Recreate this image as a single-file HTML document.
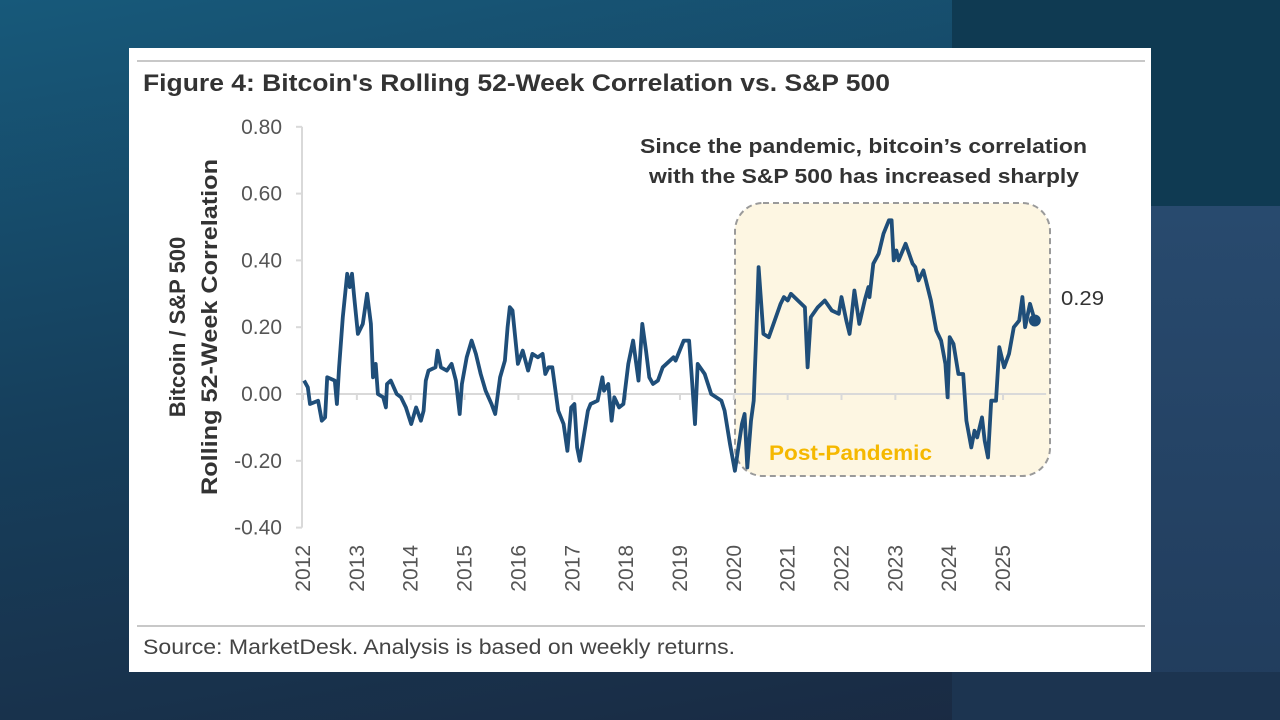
<!DOCTYPE html>
<html><head><meta charset="utf-8"><style>
body{margin:0;width:1280px;height:720px;overflow:hidden;font-family:"Liberation Sans",sans-serif;background:linear-gradient(170deg,#17597a 0%,#163f5c 45%,#1a2840 100%);position:relative}
.blk{position:absolute}
#card{position:absolute;left:129px;top:48px;width:1022px;height:624px;background:#fff}
</style></head><body>
<div class="blk" style="left:952px;top:0;width:328px;height:206px;background:#0f3a52"></div>
<div class="blk" style="left:1151px;top:206px;width:129px;height:514px;background:linear-gradient(180deg,#284a6e,#213c5c)"></div>
<div class="blk" style="left:952px;top:672px;width:328px;height:48px;background:#1c3450"></div>
<div id="card"></div>
<svg id="chart" width="1280" height="720" style="position:absolute;left:0;top:0" font-family="Liberation Sans, sans-serif">
<line x1="137" y1="61" x2="1145" y2="61" stroke="#c8c8c8" stroke-width="2"/>
<text x="143" y="91" font-size="24" font-weight="bold" fill="#333" textLength="747" lengthAdjust="spacingAndGlyphs">Figure 4: Bitcoin's Rolling 52-Week Correlation vs. S&amp;P 500</text>
<rect x="735" y="203" width="315" height="273" rx="28" fill="#fdf6e2" stroke="#9a9a9a" stroke-width="2" stroke-dasharray="6,4"/>
<text x="769" y="460" font-size="21" font-weight="bold" fill="#f5b800" textLength="163" lengthAdjust="spacingAndGlyphs">Post-Pandemic</text>
<text x="640" y="153" font-size="20" font-weight="bold" fill="#333" textLength="447" lengthAdjust="spacingAndGlyphs">Since the pandemic, bitcoin’s correlation</text>
<text x="649" y="183" font-size="20" font-weight="bold" fill="#333" textLength="430" lengthAdjust="spacingAndGlyphs">with the S&amp;P 500 has increased sharply</text>
<g id="axes"></g>
<g id="series"></g>
<text x="1061" y="305" font-size="20" fill="#333" textLength="43" lengthAdjust="spacingAndGlyphs">0.29</text>
<g transform="translate(185,327) rotate(-90)"><text x="0" y="0" font-size="22" font-weight="bold" fill="#333" text-anchor="middle">Bitcoin / S&amp;P 500</text></g>
<g transform="translate(217,327) rotate(-90)"><text x="-168" y="0" font-size="22" font-weight="bold" fill="#333" textLength="336" lengthAdjust="spacingAndGlyphs">Rolling 52-Week Correlation</text></g>
<line x1="137" y1="626" x2="1145" y2="626" stroke="#c8c8c8" stroke-width="2"/>
<text x="143" y="654" font-size="21" fill="#444" textLength="592" lengthAdjust="spacingAndGlyphs">Source: MarketDesk. Analysis is based on weekly returns.</text>
</svg>
<script>
const yTicks=[0.8,0.6,0.4,0.2,0,-0.2,-0.4];
const yTickLabels=["0.80","0.60","0.40","0.20","0.00","-0.20","-0.40"];
const xYears=[2012,2013,2014,2015,2016,2017,2018,2019,2020,2021,2022,2023,2024,2025];
const dates=[2012.02,2012.09,2012.13,2012.28,2012.35,2012.41,2012.45,2012.59,2012.63,2012.67,2012.74,2012.82,2012.87,2012.91,2012.95,2013.02,2013.11,2013.19,2013.26,2013.30,2013.35,2013.39,2013.49,2013.54,2013.56,2013.63,2013.74,2013.82,2013.91,2014.01,2014.10,2014.19,2014.24,2014.28,2014.33,2014.46,2014.50,2014.56,2014.67,2014.76,2014.84,2014.91,2014.95,2015.04,2015.13,2015.21,2015.30,2015.39,2015.50,2015.57,2015.66,2015.75,2015.80,2015.84,2015.89,2015.99,2016.08,2016.18,2016.26,2016.36,2016.45,2016.50,2016.56,2016.63,2016.74,2016.84,2016.91,2016.98,2017.04,2017.09,2017.14,2017.29,2017.34,2017.47,2017.56,2017.59,2017.67,2017.73,2017.78,2017.87,2017.95,2018.04,2018.13,2018.23,2018.30,2018.37,2018.43,2018.50,2018.59,2018.68,2018.88,2018.92,2019.07,2019.17,2019.22,2019.28,2019.33,2019.46,2019.58,2019.77,2019.83,2019.93,2020.02,2020.15,2020.20,2020.25,2020.32,2020.37,2020.41,2020.46,2020.55,2020.65,2020.76,2020.87,2020.93,2021.00,2021.06,2021.19,2021.32,2021.37,2021.43,2021.56,2021.69,2021.82,2021.95,2022.00,2022.09,2022.15,2022.24,2022.33,2022.43,2022.50,2022.52,2022.59,2022.69,2022.78,2022.88,2022.93,2022.97,2023.02,2023.06,2023.19,2023.32,2023.37,2023.43,2023.52,2023.66,2023.76,2023.85,2023.93,2023.97,2024.01,2024.08,2024.17,2024.26,2024.32,2024.41,2024.47,2024.52,2024.61,2024.66,2024.72,2024.78,2024.87,2024.93,2025.02,2025.11,2025.20,2025.30,2025.36,2025.41,2025.50,2025.59];
const values=[0.04,0.02,-0.03,-0.02,-0.08,-0.07,0.05,0.04,-0.03,0.08,0.23,0.36,0.32,0.36,0.29,0.18,0.21,0.30,0.21,0.05,0.09,0.0,-0.01,-0.04,0.03,0.04,0.0,-0.01,-0.04,-0.09,-0.04,-0.08,-0.05,0.04,0.07,0.08,0.13,0.08,0.07,0.09,0.04,-0.06,0.03,0.11,0.16,0.12,0.06,0.01,-0.03,-0.06,0.05,0.10,0.20,0.26,0.25,0.09,0.13,0.07,0.12,0.11,0.12,0.06,0.08,0.08,-0.05,-0.09,-0.17,-0.04,-0.03,-0.16,-0.20,-0.05,-0.03,-0.02,0.05,0.01,0.03,-0.08,-0.01,-0.04,-0.03,0.09,0.16,0.04,0.21,0.13,0.05,0.03,0.04,0.08,0.11,0.10,0.16,0.16,0.05,-0.09,0.09,0.06,0.0,-0.02,-0.05,-0.15,-0.23,-0.09,-0.06,-0.22,-0.08,-0.02,0.15,0.38,0.18,0.17,0.22,0.27,0.29,0.28,0.30,0.28,0.26,0.08,0.23,0.26,0.28,0.25,0.24,0.29,0.22,0.18,0.31,0.21,0.28,0.32,0.29,0.39,0.42,0.48,0.52,0.52,0.40,0.43,0.40,0.45,0.39,0.38,0.34,0.37,0.28,0.19,0.16,0.09,-0.01,0.17,0.15,0.06,0.06,-0.08,-0.16,-0.11,-0.13,-0.07,-0.14,-0.19,-0.02,-0.02,0.14,0.08,0.12,0.20,0.22,0.29,0.20,0.27,0.22,0.25,0.29];
const X0=303,PXY=53.85,Y0=394,PXV=334;
const xs=d=>X0+(d-2012)*PXY, ys=v=>Y0-v*PXV;
const NS='http://www.w3.org/2000/svg';
const axes=document.getElementById('axes'), ser=document.getElementById('series');
function mk(tag,attrs,parent){const e=document.createElementNS(NS,tag);for(const k in attrs)e.setAttribute(k,attrs[k]);parent.appendChild(e);return e;}
let l=mk('line',{x1:xs(2012)-1,y1:ys(0.8),x2:xs(2012)-1,y2:ys(-0.4),stroke:'#d9d9d9','stroke-width':2},axes);


l=mk('line',{x1:xs(2012),y1:ys(0),x2:xs(2025.8),y2:ys(0),stroke:'#d9d9d9','stroke-width':2},axes);


yTicks.forEach((v,i)=>{
 const t=mk('line',{x1:xs(2012)-7,y1:ys(v),x2:xs(2012)-1,y2:ys(v),stroke:'#d9d9d9','stroke-width':2},axes);
 
 
 const tx=mk('text',{x:282,y:ys(v)+7,'font-size':21,fill:'#555','text-anchor':'end'},axes);
 tx.textContent=yTickLabels[i];
 
 
});
xYears.forEach(yr=>{
 const t=mk('line',{x1:xs(yr),y1:ys(0),x2:xs(yr),y2:ys(0)+6,stroke:'#d9d9d9','stroke-width':2},axes);
 
 
 const tx=mk('text',{x:0,y:0,'font-size':21,fill:'#555','text-anchor':'end',transform:`translate(${xs(yr)+7},545) rotate(-90)`},axes);
 tx.textContent=String(yr);
 
 
});
const p=mk('path',{d:dates.map((d,i)=>(i?'L':'M')+xs(d).toFixed(1)+','+ys(values[i]).toFixed(1)).join(''),fill:'none',stroke:'#1f4e79','stroke-width':3.8,'stroke-linejoin':'round'},ser);


const n=dates.length-1;
const c=mk('circle',{cx:xs(dates[n]),cy:ys(values[n]),r:6,fill:'#1f4e79'},ser);


</script>
</body></html>
